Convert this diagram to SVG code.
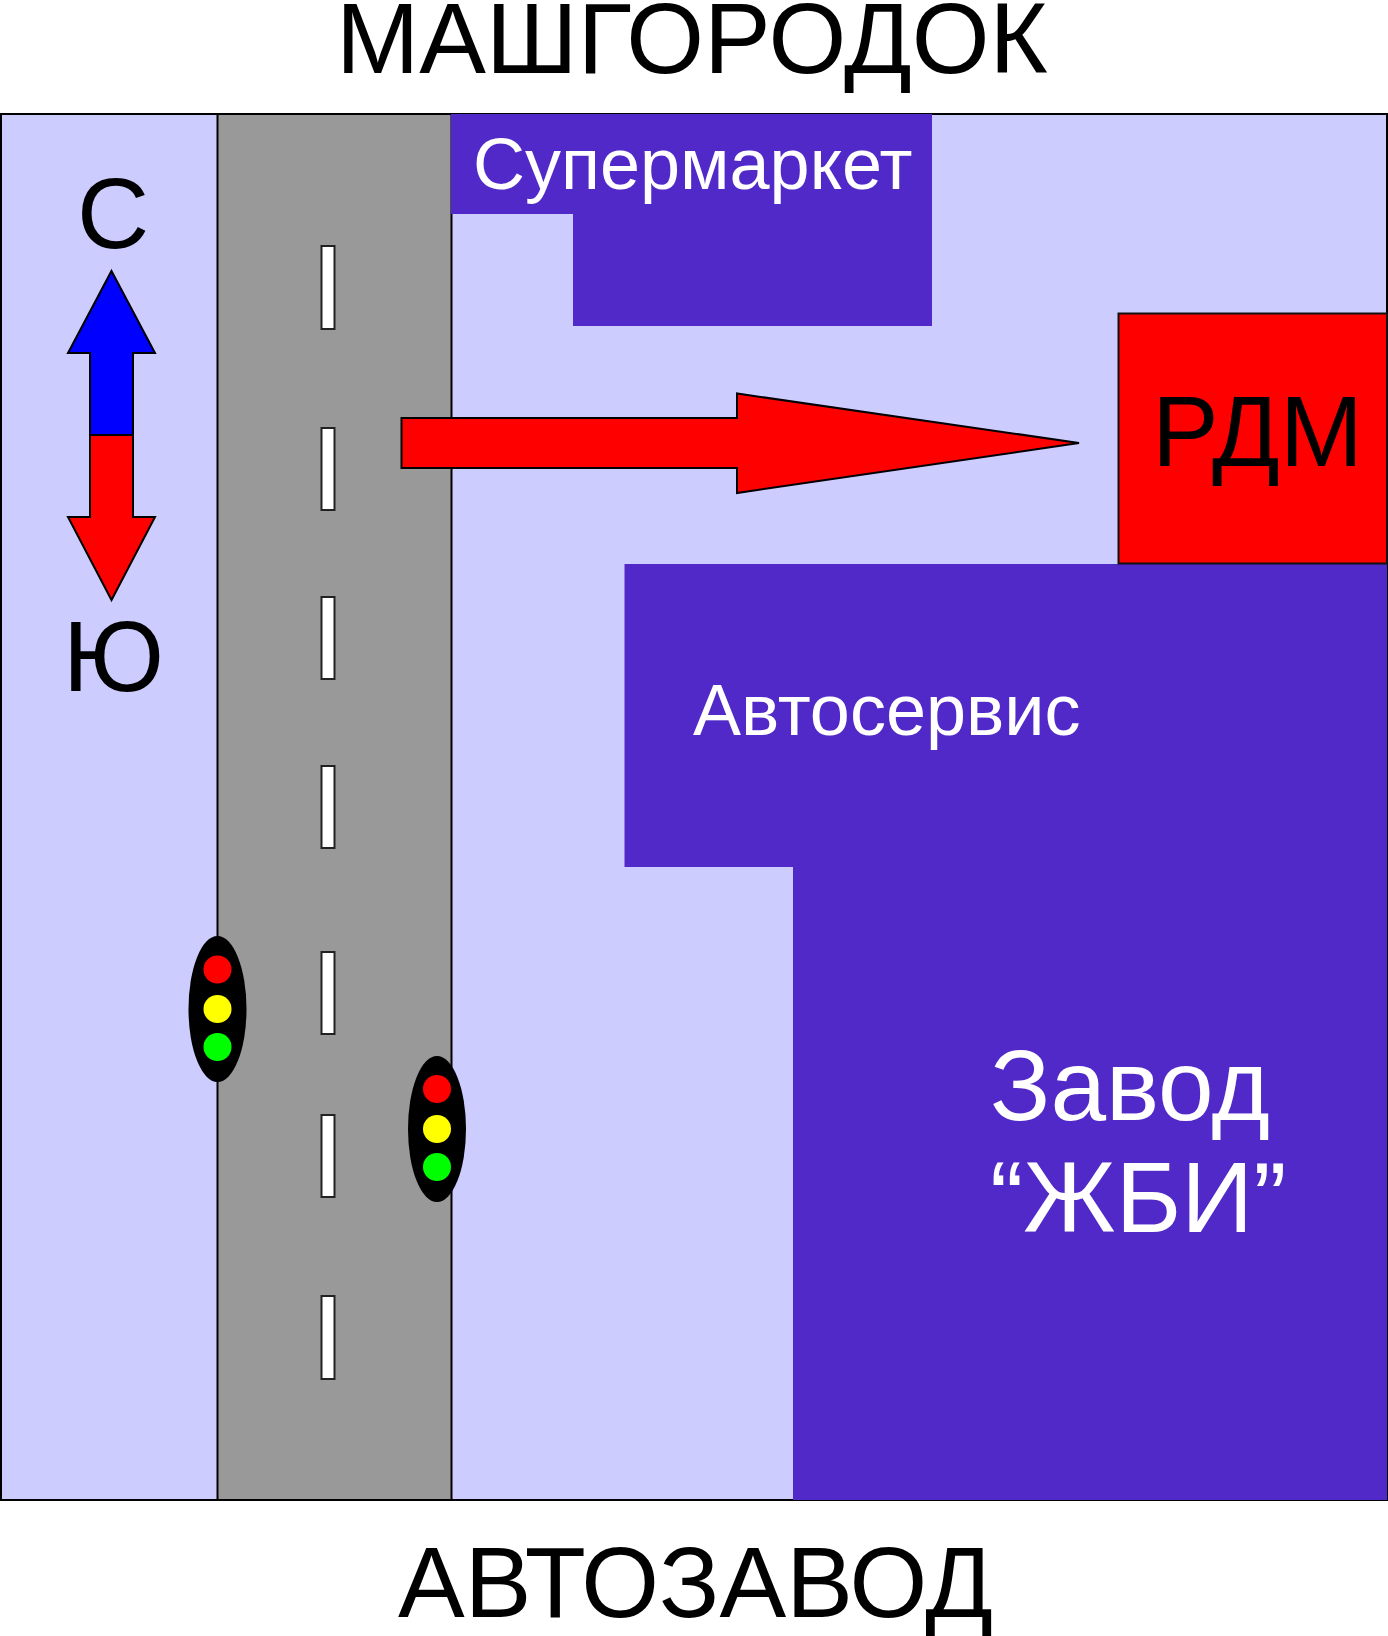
<svg xmlns="http://www.w3.org/2000/svg" width="1388" height="1636" viewBox="0 0 1388 1636">
<style>
text{font-family:"Liberation Sans",Arial,sans-serif;fill:#000}
.w{fill:#fff}
.f{font-size:100px}
.m{font-size:72px}
.ln{stroke:#000;stroke-width:2}
.b{fill:#5229c9}
.d{fill:#fff;stroke:#222;stroke-width:2}
.r{fill:#f00}.y{fill:#ff0}.g{fill:#0f0}
</style>
<rect width="1388" height="1636" fill="#fff"/>
<g id="map">
<rect x="1" y="114" width="1386" height="1386" fill="#ccf" class="ln"/>
<rect id="road" x="217.500" y="114" width="234" height="1386" fill="#999" class="ln"/>
</g>
<g id="dashes">
<rect class="d" x="321.500" y="246" width="13" height="83"/>
<rect class="d" x="321.500" y="428" width="13" height="82"/>
<rect class="d" x="321.500" y="597" width="13" height="82"/>
<rect class="d" x="321.500" y="766" width="13" height="82"/>
<rect class="d" x="321.500" y="952" width="13" height="82"/>
<rect class="d" x="321.500" y="1115" width="13" height="82"/>
<rect class="d" x="321.500" y="1296" width="13" height="83"/>
</g>
<g id="supermarket">
<path class="b" d="M451 114H932V326H573V214H451Z"/>
<text class="w m" x="473" y="189">Супермаркет</text>
</g>
<g id="factory">
<path class="b" d="M624.500 564H1387V1500H793V867H624.500Z"/>
<text class="w m" x="693" y="735">Автосервис</text>
<text class="w f" x="990" y="1120">Завод</text>
<text class="w f" x="990" y="1232">“ЖБИ”</text>
</g>
<g id="rdm">
<rect x="1118.500" y="313.500" width="268.500" height="250" fill="#f00" stroke="#111" stroke-width="2"/>
<text class="f" x="1152" y="466">РДМ</text>
</g>
<g id="connectors">
<path d="M401.500 418H737V393.500L1079 443L737 493V468H401.500Z" fill="#f00" class="ln"/>
</g>
<g id="compass">
<path d="M111.500 271L155 353H133V435H90V353H68Z" fill="#00f" class="ln"/>
<path d="M90 435H133V517H155L111.500 600L68 517H90Z" fill="#f00" class="ln"/>
<text class="f" x="77" y="248">С</text>
<text class="f" x="63" y="691">Ю</text>
</g>
<g id="light1">
<ellipse cx="217.500" cy="1009" rx="29" ry="73"/>
<circle class="r" cx="217.500" cy="969.500" r="14"/>
<circle class="y" cx="217.500" cy="1009" r="14"/>
<circle class="g" cx="217.500" cy="1047" r="14"/>
</g>
<g id="light2">
<ellipse cx="437" cy="1129" rx="29" ry="73"/>
<circle class="r" cx="437" cy="1089" r="14"/>
<circle class="y" cx="437" cy="1129" r="14"/>
<circle class="g" cx="437" cy="1167" r="14"/>
</g>
<g id="titles">
<text class="f" x="336" y="73">МАШГОРОДОК</text>
<text class="f" x="398" y="1617">АВТОЗАВОД</text>
</g>
</svg>
